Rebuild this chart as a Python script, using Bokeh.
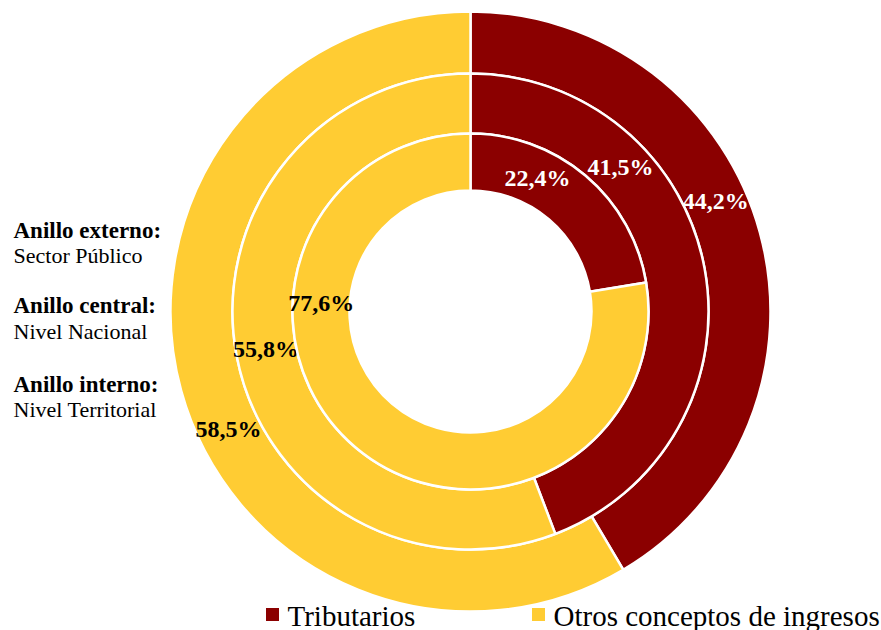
import numpy as np
from bokeh.plotting import figure
from bokeh.models import ColumnDataSource, Range1d
from bokeh.core.properties import value
from bokeh.embed import file_html
from bokeh.resources import INLINE

# ---- data ----
categories = ["Tributarios", "Otros conceptos de ingresos"]
ring_titles = ["Anillo externo:", "Anillo central:", "Anillo interno:"]
ring_names = ["Sector Público", "Nivel Nacional", "Nivel Territorial"]
outer_values = [41.5, 58.5]
central_values = [44.2, 55.8]
inner_values = [22.4, 77.6]
outer_labels = ["44,2%", "58,5%"]
central_labels = ["41,5%", "55,8%"]
inner_labels = ["22,4%", "77,6%"]

# ---- style ----
colors = ["#8B0000", "#FFCC33"]
label_colors = ["white", "black"]
FONT = "Liberation Serif"
W, H = 881, 630
cx, cy = 470, 319
ring_radii = [(238, 300), (178, 238), (121, 178)]
label_pos_frac = [[0.44, 0.45], [0.29, 0.50], [0.33, 0.69]]

p = figure(width=W, height=H, output_backend="svg", toolbar_location=None,
           x_range=Range1d(0, W), y_range=Range1d(0, H), min_border=0)
p.axis.visible = False
p.grid.visible = False
p.outline_line_color = None
p.background_fill_color = "white"

rings = [(outer_values, outer_labels), (central_values, central_labels),
         (inner_values, inner_labels)]

for (vals, labs), (r0, r1), fracs in zip(rings, ring_radii, label_pos_frac):
    total = sum(vals)
    ends = np.cumsum(vals) / total * 360.0
    starts = np.concatenate([[0.0], ends[:-1]])
    src = ColumnDataSource(dict(
        start=np.radians(90 - starts), end=np.radians(90 - ends),
        color=colors, cat=categories))
    p.annular_wedge(x=cx, y=cy, inner_radius=r0, outer_radius=r1,
                    start_angle="start", end_angle="end", direction="clock",
                    fill_color="color", line_color="white", line_width=2.5,
                    source=src)
    mid_r = (r0 + r1) / 2
    th = np.radians(starts + (ends - starts) * np.array(fracs))
    lsrc = ColumnDataSource(dict(x=cx + mid_r * np.sin(th), y=cy + mid_r * np.cos(th),
                                 text=labs, color=label_colors))
    p.text(x="x", y="y", text="text", text_color="color", source=lsrc,
           text_font=value(FONT), text_font_style="bold", text_font_size="24px",
           text_align="center", text_baseline="middle")

# left annotations
title_y = [400, 325, 246]
name_y = [375, 299, 221]
p.text(x=[13] * 3, y=title_y, text=ring_titles, text_font=value(FONT),
       text_font_style="bold", text_font_size="23px", text_color="black",
       text_baseline="middle")
p.text(x=[13] * 3, y=name_y, text=ring_names, text_font=value(FONT),
       text_font_size="22px", text_color="black", text_baseline="middle")

# legend
leg_x = [272, 538]
p.scatter(x=leg_x, y=[16, 16], marker="square", size=13, fill_color=colors,
          line_color=None)
p.text(x=[x + 15 for x in leg_x], y=[15, 15], text=categories, text_font=value(FONT),
       text_font_size="29px", text_color="black", text_baseline="middle")

open("out.html", "w").write(file_html(p, INLINE))
